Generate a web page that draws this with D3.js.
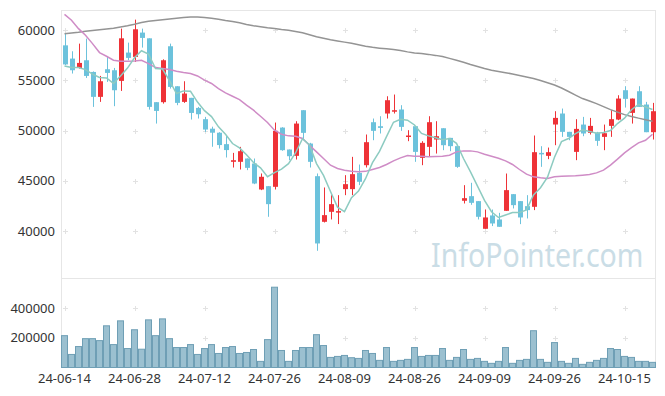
<!DOCTYPE html>
<html>
<head>
<meta charset="utf-8">
<script src="https://cdn.jsdelivr.net/npm/d3@7"></script>
<style>
  html, body { margin: 0; padding: 0; background: #fff; }
  svg { display: block; font-family: "Noto Sans", sans-serif; }
</style>
</head>
<body>
<div id="chart"></div>
<script>
const dates = [
  "24-06-14","24-06-17","24-06-18","24-06-19","24-06-20","24-06-21","24-06-24","24-06-25","24-06-26","24-06-27",
  "24-06-28","24-07-01","24-07-02","24-07-03","24-07-04","24-07-05","24-07-08","24-07-09","24-07-10","24-07-11",
  "24-07-12","24-07-15","24-07-16","24-07-17","24-07-18","24-07-19","24-07-22","24-07-23","24-07-24","24-07-25",
  "24-07-26","24-07-29","24-07-30","24-07-31","24-08-01","24-08-02","24-08-05","24-08-06","24-08-07","24-08-08",
  "24-08-09","24-08-12","24-08-13","24-08-14","24-08-16","24-08-19","24-08-20","24-08-21","24-08-22","24-08-23",
  "24-08-26","24-08-27","24-08-28","24-08-29","24-08-30","24-09-02","24-09-03","24-09-04","24-09-05","24-09-06",
  "24-09-09","24-09-10","24-09-11","24-09-12","24-09-13","24-09-19","24-09-20","24-09-23","24-09-24","24-09-25",
  "24-09-26","24-09-27","24-09-30","24-10-02","24-10-04","24-10-07","24-10-08","24-10-10","24-10-11","24-10-14",
  "24-10-15","24-10-16","24-10-17","24-10-18","24-10-21"
]

const open = [
  58500,57180,56250,57015,55850,53370,56120,56020,54960,57780,
  57350,59770,59200,52840,52840,58410,54425,52870,53270,52270,
  51145,50200,49800,48660,46900,46900,47230,46730,44145,44475,
  44410,50310,48125,47495,52040,48720,45470,40925,41920,41920,
  44180,44180,45805,46565,50845,50445,51710,51940,52110,49385,
  50445,47295,48390,49120,50245,49285,48460,43020,43480,42985,
  40230,41560,41160,42020,43680,42985,42485,42420,47790,47495,
  50615,51710,49885,47890,50610,49785,49820,49385,50480,51110,
  54030,51775,53930,52605,49850
]
const high = [
  59680,57910,58670,59170,55900,55455,57350,56250,60165,58770,
  61060,60165,59200,52840,57110,58670,54430,54925,53270,52370,
  51375,50400,49850,49550,47790,48390,47230,47230,45740,44475,
  50810,50350,48125,50945,52040,48790,45740,44345,43580,43580,
  45570,47395,46630,49620,51210,51440,53430,53600,52540,50050,
  50445,48955,51440,50945,50245,49285,48460,44575,44810,42985,
  42155,42150,41820,45735,43680,42985,43580,49520,48455,48320,
  51940,52205,49885,51145,51375,51275,49885,50610,52040,53530,
  54430,53200,54430,52870,52770
]
const low = [
  56530,55690,56185,55255,52370,52870,54860,52440,53960,57015,
  56850,58275,52100,50710,52700,54195,52540,52770,51110,51210,
  49880,48400,48225,47330,46330,46135,46070,44675,44080,41425,
  44145,48000,47065,47130,49120,46330,38040,40860,41160,40700,
  43580,43580,44580,46335,49050,49720,51210,51710,49985,48955,
  46900,46565,47395,47725,48060,47960,46300,42750,42620,41160,
  40230,40500,40430,42020,42255,40695,41260,42090,46400,47165,
  48555,49385,49050,47065,49450,49620,48490,48060,49385,51045,
  52305,50710,52370,49850,49120
]
const close = [
  56600,56020,56750,55455,53370,54925,55755,54030,59200,57250,
  60100,59240,52370,51970,57015,54360,52770,53700,51770,51640,
  50115,49800,48570,48070,47060,47960,46300,44740,45410,42685,
  49985,48060,47460,50710,49785,46900,38770,41590,42685,41990,
  44675,45670,44910,48855,49985,50280,53035,52040,50380,49520,
  47890,48790,50845,49450,48555,48460,46400,43280,42815,41425,
  41360,40760,40430,44080,42585,41360,42090,47860,47690,47860,
  51275,49885,49385,50180,49720,50480,48990,49750,51145,53200,
  53170,53200,52370,49850,51940
]
const volume = [
  214700,88000,141300,194500,194500,181300,281100,154500,314500,127900,
  254500,123300,321100,214700,327800,194500,134600,134600,154500,88000,
  127900,154500,94600,134600,141300,94600,101300,121300,41300,188000,
  541300,114700,41300,114700,134600,134600,221300,148000,68000,74700,
  81300,66000,61300,114700,94600,48000,134600,41300,48000,54700,
  134600,74700,81300,81300,127900,48000,68000,121300,54700,61300,
  41300,28000,41300,134600,28000,48000,54700,248000,54700,34700,
  168000,41300,28000,61300,21300,34700,48000,61300,127900,121300,
  74700,68000,41300,41300,34700
]
const ma5 = [
  56450,56285,56285,56085,55639,55304,55251,54707,55456,56232,
  57267,57964,57632,56186,56139,54991,53697,53963,53923,52848,
  51999,51405,50379,49639,48723,48292,47602,46826,46294,45419,
  45824,46176,46720,47780,49200,48583,46725,45551,43946,42387,
  41942,43322,43986,45220,46819,47940,49413,50839,51144,51051,
  50573,49724,49485,49299,49106,49220,48742,47229,45902,44476,
  43056,41928,41358,41611,41843,41843,42109,43595,44317,45372,
  47355,48914,49219,49717,50089,49930,49751,49824,50017,50713,
  51251,52093,52617,52358,52106
]
const ma20 = [
  61590,61000,60165,59500,58670,57780,57415,57015,56915,56915,
  56950,57015,56680,56285,56185,56085,55920,55790,55690,55455,
  55030,54700,54195,53765,53430,53100,52540,52040,51440,50810,
  50050,49650,49485,49450,49220,48555,47890,47230,46565,46235,
  46070,45970,45900,45950,46135,46335,46635,47000,47295,47530,
  47460,47460,47395,47420,47460,47560,47890,47990,47990,47890,
  47660,47460,47260,47000,46635,46135,45670,45405,45305,45240,
  45405,45470,45490,45505,45570,45640,45800,46070,46565,47165,
  47795,48320,48790,49050,49650
]
const ma60 = [
  59650,59720,59800,59900,59990,60050,60120,60200,60320,60450,
  60600,60780,60900,60980,61050,61130,61200,61280,61320,61330,
  61280,61200,61100,60980,60880,60750,60580,60450,60350,60250,
  60180,60080,60000,59880,59750,59550,59350,59200,59060,58940,
  58820,58700,58560,58400,58300,58220,58150,58080,57980,57850,
  57740,57680,57600,57500,57380,57200,57020,56820,56600,56400,
  56200,56020,55900,55780,55650,55500,55350,55200,55000,54780,
  54550,54250,53900,53550,53200,52950,52700,52400,52100,51850,
  51600,51420,51250,51100,50950
]
const priceTicks = [40000, 45000, 50000, 55000, 60000]
const volumeTicks = [200000, 400000]
const dateTickIdx = [0, 10, 20, 30, 40, 50, 60, 70, 80]

const width = 665, height = 396
const left = 61.5, right = 655.5
const priceTop = 10.5, priceBottom = 278.5
const volTop = 278.5, volBottom = 367.5

const svg = d3.select("#chart").append("svg")
  .attr("width", width)
  .attr("height", height)

const x = d3.scaleBand()
  .domain(d3.range(dates.length))
  .range([61, 656])
  .padding(0)
const cx = i => x(i) + x.bandwidth() / 2

const y = d3.scaleLinear().domain([35280, 61970]).range([priceBottom, priceTop])
const yv = d3.scaleLinear().domain([0, 600000]).range([volBottom, volTop])

// frames
svg.append("rect")
  .attr("x", left).attr("y", priceTop)
  .attr("width", right - left).attr("height", priceBottom - priceTop)
  .attr("fill", "none").attr("stroke", "#e6e6e6")
svg.append("rect")
  .attr("x", left).attr("y", volTop)
  .attr("width", right - left).attr("height", volBottom - volTop)
  .attr("fill", "none").attr("stroke", "#e6e6e6")

// grid plus marks
const plus = (g, px, py) => {
  g.append("line").attr("x1", px - 2.5).attr("x2", px + 2.5).attr("y1", py).attr("y2", py)
  g.append("line").attr("x1", px).attr("x2", px).attr("y1", py - 2.5).attr("y2", py + 2.5)
}
const grid = svg.append("g").attr("stroke", "#e2e2e2").attr("stroke-width", 1)
dateTickIdx.forEach(i => {
  priceTicks.forEach(v => plus(grid, Math.round(cx(i)) + 0.5, Math.round(y(v)) + 0.5))
  volumeTicks.forEach(v => plus(grid, Math.round(cx(i)) + 0.5, Math.round(yv(v)) + 0.5))
})

// watermark, stretched vertically a bit to match the taller lettering
svg.append("text")
  .attr("transform", "translate(431,267) scale(1,1.17)")
  .attr("font-size", 28.5)
  .attr("fill", "#cadde6")
  .text("InfoPointer.com")

// volume bars
svg.append("g").selectAll("rect")
  .data(volume)
  .join("rect")
    .attr("x", (d, i) => x(i) + 0.5)
    .attr("y", d => yv(d))
    .attr("width", x.bandwidth() - 1)
    .attr("height", d => volBottom - yv(d))
    .attr("fill", "#9bc0d0")
    .attr("stroke", "#6f9fb5")
    .attr("stroke-width", 1)

// candles
const candles = svg.append("g").selectAll("g")
  .data(d3.range(dates.length))
  .join("g")
    .attr("fill", i => close[i] >= open[i] ? "#ee3237" : "#6cc2dc")
    .attr("stroke", i => close[i] >= open[i] ? "#ee3237" : "#6cc2dc")

candles.append("line")
  .attr("x1", i => Math.round(cx(i)) + 0.5)
  .attr("x2", i => Math.round(cx(i)) + 0.5)
  .attr("y1", i => y(high[i]))
  .attr("y2", i => y(low[i]))
  .attr("stroke-width", 1)

candles.append("rect")
  .attr("x", i => Math.round(cx(i)) - 2)
  .attr("y", i => y(Math.max(open[i], close[i])))
  .attr("width", 5)
  .attr("height", i => Math.max(1.5, Math.abs(y(open[i]) - y(close[i]))))
  .attr("stroke", "none")

// moving averages
const line = d3.line().x((d, i) => cx(i)).y(d => y(d))
const maSeries = [
  { values: ma60, color: "#949494" },
  { values: ma20, color: "#cf8cc6" },
  { values: ma5, color: "#8dcbc1" }
]
svg.append("g").selectAll("path")
  .data(maSeries)
  .join("path")
    .attr("d", d => line(d.values))
    .attr("fill", "none")
    .attr("stroke", d => d.color)
    .attr("stroke-width", 1.5)

// axis labels
const labels = svg.append("g").attr("font-size", 13).attr("fill", "#333")
labels.selectAll("text.py")
  .data(priceTicks)
  .join("text")
    .attr("class", "py")
    .attr("x", 55)
    .attr("y", d => y(d) + 4.5)
    .attr("text-anchor", "end")
    .text(d => d)
labels.selectAll("text.vy")
  .data(volumeTicks)
  .join("text")
    .attr("class", "vy")
    .attr("x", 55)
    .attr("y", d => yv(d) + 4.5)
    .attr("text-anchor", "end")
    .text(d => d)
labels.selectAll("text.dx")
  .data(dateTickIdx)
  .join("text")
    .attr("class", "dx")
    .attr("x", i => cx(i))
    .attr("y", 383)
    .attr("text-anchor", "middle")
    .text(i => dates[i])
</script>
</body>
</html>
